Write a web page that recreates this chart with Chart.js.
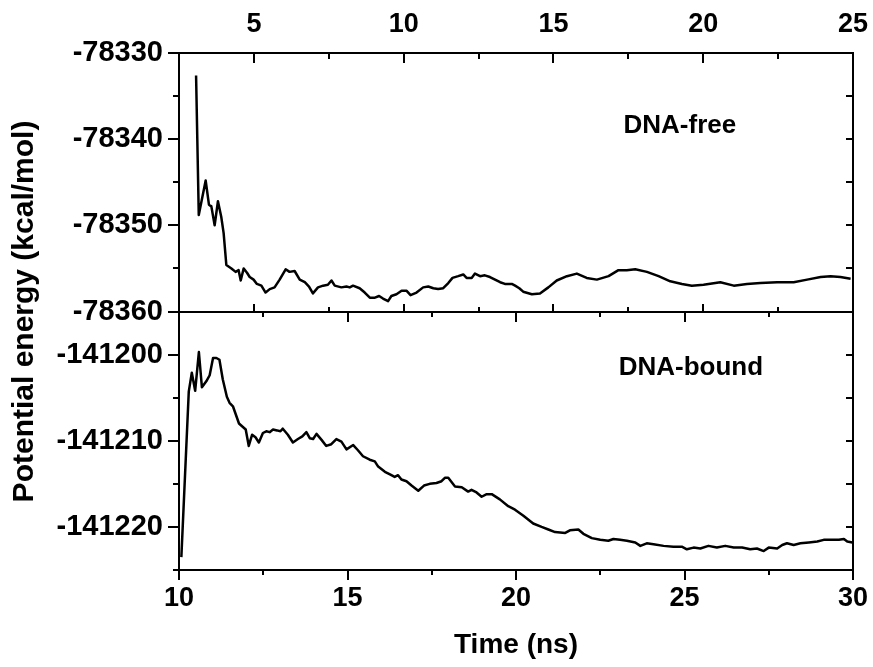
<!DOCTYPE html>
<html>
<head>
<meta charset="utf-8">
<script src="https://cdn.jsdelivr.net/npm/chart.js@4"></script>
<style>
  html, body { margin: 0; padding: 0; background: #fff; }
  #wrap { width: 873px; height: 667px; }
</style>
</head>
<body>
<div id="wrap"><canvas id="energy" width="873" height="667"></canvas></div>
<script>
// DNA-free run (top panel, read against the top time axis)
const freeTime = [3.07, 3.16, 3.39, 3.50, 3.58, 3.69, 3.80, 3.91, 3.99, 4.08, 4.25, 4.39, 4.49, 4.56, 4.66, 4.77, 4.86, 4.99,
  5.10, 5.25, 5.39, 5.53, 5.69, 5.86, 6.06, 6.19, 6.36, 6.53, 6.70, 6.84, 6.97, 7.14, 7.31, 7.47, 7.59, 7.70, 7.92,
  8.09, 8.20, 8.31, 8.53, 8.70, 8.87, 9.04, 9.18, 9.31, 9.48, 9.59, 9.76, 9.93, 10.10, 10.23, 10.43, 10.65, 10.82,
  10.99, 11.15, 11.32, 11.49, 11.63, 11.82, 11.99, 12.10, 12.27, 12.38, 12.55, 12.71, 12.88, 13.05, 13.22, 13.38,
  13.61, 13.72, 13.86, 13.99, 14.28, 14.55, 14.83, 15.11, 15.45, 15.78, 16.11, 16.45, 16.84, 17.17, 17.45, 17.73,
  18.12, 18.51, 18.90, 19.29, 19.62, 20.01, 20.57, 21.02, 21.46, 21.91, 22.47, 23.02, 23.47, 23.92, 24.25, 24.58, 24.92];
const freeEnergy = [-78332.6, -78348.8, -78344.8, -78347.6, -78347.8, -78350.0, -78347.2, -78349.0, -78350.9, -78354.6,
  -78355.0, -78355.4, -78355.2, -78356.4, -78355.0, -78355.5, -78356.0, -78356.3, -78356.8, -78357.0, -78357.8,
  -78357.4, -78357.2, -78356.3, -78355.1, -78355.4, -78355.3, -78356.3, -78356.6, -78357.1, -78357.9, -78357.2,
  -78357.0, -78356.9, -78356.4, -78357.0, -78357.2, -78357.1, -78357.2, -78357.0, -78357.3, -78357.8, -78358.4,
  -78358.4, -78358.2, -78358.5, -78358.8, -78358.2, -78358.0, -78357.6, -78357.6, -78358.1, -78357.8, -78357.2,
  -78357.1, -78357.3, -78357.4, -78357.3, -78356.7, -78356.1, -78355.9, -78355.7, -78356.1, -78356.1, -78355.6,
  -78355.9, -78355.8, -78356.0, -78356.3, -78356.6, -78356.8, -78356.8, -78357.0, -78357.3, -78357.7, -78358.0,
  -78357.9, -78357.2, -78356.4, -78355.9, -78355.6, -78356.1, -78356.3, -78355.9, -78355.2, -78355.2, -78355.1,
  -78355.4, -78355.9, -78356.5, -78356.8, -78357.0, -78356.9, -78356.6, -78357.0, -78356.8, -78356.7, -78356.6,
  -78356.6, -78356.3, -78356.0, -78355.9, -78356.0, -78356.2];

// DNA-bound run (bottom panel, bottom time axis)
const boundTime = [10.07, 10.29, 10.38, 10.48, 10.59, 10.68, 10.81, 10.91, 11.01, 11.11, 11.20, 11.30, 11.42, 11.50,
  11.60, 11.78, 11.98, 12.07, 12.17, 12.27, 12.37, 12.49, 12.59, 12.69, 12.79, 12.91, 13.01, 13.08, 13.23, 13.38,
  13.53, 13.66, 13.78, 13.88, 13.98, 14.08, 14.23, 14.37, 14.52, 14.67, 14.82, 14.97, 15.17, 15.31, 15.46, 15.66,
  15.81, 15.91, 16.11, 16.26, 16.40, 16.50, 16.60, 16.75, 16.90, 17.10, 17.27, 17.44, 17.64, 17.79, 17.89, 17.99,
  18.19, 18.39, 18.58, 18.68, 18.83, 18.98, 19.13, 19.28, 19.52, 19.77, 19.97, 20.22, 20.51, 20.76, 20.96, 21.16,
  21.46, 21.60, 21.85, 22.00, 22.25, 22.50, 22.74, 22.89, 23.09, 23.29, 23.54, 23.69, 23.88, 24.08, 24.38, 24.67,
  24.92, 25.07, 25.27, 25.47, 25.71, 25.96, 26.21, 26.46, 26.71, 26.95, 27.15, 27.35, 27.50, 27.75, 27.90, 28.04,
  28.24, 28.44, 28.69, 28.94, 29.13, 29.38, 29.58, 29.73, 29.83, 29.98];
const boundEnergy = [-141223.5, -141204.3, -141202.1, -141204.2, -141199.7, -141203.8, -141203.1, -141202.4, -141200.4,
  -141200.4, -141200.6, -141202.9, -141204.9, -141205.6, -141206.0, -141208.0, -141208.7, -141210.6, -141209.3,
  -141209.6, -141210.2, -141209.1, -141208.9, -141209.0, -141208.7, -141208.8, -141208.9, -141208.6, -141209.3,
  -141210.2, -141209.8, -141209.5, -141209.0, -141209.7, -141209.8, -141209.2, -141209.9, -141210.6, -141210.4,
  -141209.8, -141210.1, -141211.0, -141210.5, -141211.1, -141211.8, -141212.2, -141212.4, -141213.0, -141213.6,
  -141213.9, -141214.2, -141214.0, -141214.5, -141214.7, -141215.2, -141215.8, -141215.2, -141215.0, -141214.9,
  -141214.7, -141214.3, -141214.3, -141215.3, -141215.4, -141215.9, -141215.7, -141216.0, -141216.5, -141216.2,
  -141216.2, -141216.8, -141217.6, -141218.0, -141218.7, -141219.6, -141220.0, -141220.3, -141220.6, -141220.7,
  -141220.4, -141220.3, -141220.8, -141221.3, -141221.5, -141221.6, -141221.4, -141221.5, -141221.6, -141221.8,
  -141222.2, -141221.9, -141222.0, -141222.2, -141222.3, -141222.3, -141222.6, -141222.4, -141222.5, -141222.2,
  -141222.4, -141222.2, -141222.4, -141222.4, -141222.6, -141222.5, -141222.8, -141222.4, -141222.5, -141222.1,
  -141221.9, -141222.1, -141221.9, -141221.8, -141221.7, -141221.5, -141221.5, -141221.5, -141221.4, -141221.7,
  -141221.8];

// axis ticks
const topTimeTicks = [5, 10, 15, 20, 25];
const bottomTimeTicks = [10, 15, 20, 25, 30];
const freeEnergyTicks = [-78360, -78350, -78340, -78330];
const boundEnergyTicks = [-141220, -141210, -141200];

const panelLabels = [
  { text: 'DNA-free', xAxis: 'xTop', yAxis: 'yFree', x: 19.22, y: -78339.25 },
  { text: 'DNA-bound', xAxis: 'x', yAxis: 'yBound', x: 25.19, y: -141202.4 }
];

const FONT = '"Liberation Sans", Arial, Helvetica, sans-serif';

function toPoints(xs, ys) {
  return xs.map((x, i) => ({ x, y: ys[i] }));
}

function fixedTicks(values) {
  return scale => { scale.ticks = values.map(value => ({ value })); };
}

// midpoints between major ticks, kept inside the axis range
function minorsOf(majors, lo, hi) {
  const half = Math.abs(majors[1] - majors[0]) / 2;
  const out = new Set();
  majors.forEach(v => [v - half, v + half].forEach(m => {
    if (m >= lo && m <= hi && !majors.includes(m)) out.add(m);
  }));
  return [...out];
}

function seg(ctx, x1, y1, x2, y2) {
  ctx.beginPath();
  ctx.moveTo(x1, y1);
  ctx.lineTo(x2, y2);
  ctx.stroke();
}

const framePlugin = {
  id: 'frame',
  afterDraw(chart) {
    const { ctx, chartArea: a, scales } = chart;
    const xb = scales.x, xt = scales.xTop, yf = scales.yFree, yb = scales.yBound;
    const L = Math.round(a.left), R = Math.round(a.right), T = Math.round(a.top), B = Math.round(a.bottom);
    const mid = Math.round(yf.getPixelForValue(yf.min));
    const px = (s, v) => Math.round(s.getPixelForValue(v));

    ctx.save();
    ctx.strokeStyle = '#000';
    ctx.lineWidth = 2;
    ctx.lineCap = 'butt';
    ctx.strokeRect(L, T, R - L, B - T);
    seg(ctx, L, mid, R, mid);

    // left side: outward ticks
    [[yf, freeEnergyTicks], [yb, boundEnergyTicks]].forEach(([s, majors]) => {
      majors.forEach(v => seg(ctx, L, px(s, v), L - 11, px(s, v)));
      minorsOf(majors, s.min, s.max).forEach(v => seg(ctx, L, px(s, v), L - 6, px(s, v)));
      // right side: inward ticks
      majors.concat(minorsOf(majors, s.min, s.max))
        .filter(v => v > s.min && v < s.max)
        .forEach(v => seg(ctx, R, px(s, v), R - 7, px(s, v)));
    });

    // top axis: inward ticks on the top edge and on the divider
    const topMinors = minorsOf(topTimeTicks, xt.min, xt.max);
    topTimeTicks.filter(v => v < xt.max).forEach(v => {
      seg(ctx, px(xt, v), T, px(xt, v), T + 10);
      seg(ctx, px(xt, v), mid, px(xt, v), mid - 8);
    });
    topMinors.filter(v => v > xt.min).forEach(v => {
      seg(ctx, px(xt, v), T, px(xt, v), T + 6);
      seg(ctx, px(xt, v), mid, px(xt, v), mid - 5);
    });

    // bottom axis: outward ticks below, inward ticks under the divider
    const botMinors = minorsOf(bottomTimeTicks, xb.min, xb.max);
    bottomTimeTicks.forEach(v => {
      seg(ctx, px(xb, v), B, px(xb, v), B + 10);
      if (v > xb.min && v < xb.max) seg(ctx, px(xb, v), mid, px(xb, v), mid + 10);
    });
    botMinors.forEach(v => {
      seg(ctx, px(xb, v), B, px(xb, v), B + 5);
      seg(ctx, px(xb, v), mid, px(xb, v), mid + 5);
    });

    // panel captions
    ctx.fillStyle = '#000';
    ctx.font = 'bold 26px ' + FONT;
    ctx.textAlign = 'center';
    ctx.textBaseline = 'alphabetic';
    panelLabels.forEach(lb => {
      ctx.fillText(lb.text, scales[lb.xAxis].getPixelForValue(lb.x), scales[lb.yAxis].getPixelForValue(lb.y));
    });
    ctx.restore();
  }
};

const tickFontX = { family: FONT, size: 27, weight: 'bold' };
const tickFontY = { family: FONT, size: 29, weight: 'bold' };
const noGrid = { display: false, drawTicks: false };

// keep the plot box fixed regardless of how far end labels overhang
function fitHorizontal(height) {
  return s => { s.height = height; s.paddingLeft = 0; s.paddingRight = 0; };
}
function fitVertical(width) {
  return s => { s.width = width; s.paddingTop = 0; s.paddingBottom = 0; };
}

new Chart(document.getElementById('energy'), {
  type: 'line',
  data: {
    datasets: [
      { label: 'DNA-free', data: toPoints(freeTime, freeEnergy), xAxisID: 'xTop', yAxisID: 'yFree',
        borderColor: '#000', borderWidth: 2.5, pointRadius: 0, tension: 0, borderJoinStyle: 'round' },
      { label: 'DNA-bound', data: toPoints(boundTime, boundEnergy), xAxisID: 'x', yAxisID: 'yBound',
        borderColor: '#000', borderWidth: 2.5, pointRadius: 0, tension: 0, borderJoinStyle: 'round' }
    ]
  },
  options: {
    responsive: false,
    animation: false,
    devicePixelRatio: 1,
    layout: { padding: { left: 0, top: 0, right: 20, bottom: 0 } },
    plugins: {
      legend: { display: false },
      tooltip: { enabled: false },
      title: {
        display: true, position: 'left', fullSize: false,
        text: 'Potential energy (kcal/mol)',
        font: { family: FONT, size: 30, weight: 'bold' }, color: '#000',
        padding: { top: 7, bottom: 0 }
      }
    },
    scales: {
      x: {
        type: 'linear', position: 'bottom', min: 10, max: 30,
        afterBuildTicks: fixedTicks(bottomTimeTicks),
        grid: noGrid, border: { display: false },
        ticks: { font: tickFontX, color: '#000', padding: 12, maxRotation: 0, autoSkip: false, callback: v => String(v) },
        title: { display: true, text: 'Time (ns)', color: '#000', font: { family: FONT, size: 28, weight: 'bold' }, padding: { top: 0, bottom: 5 } },
        afterFit: fitHorizontal(97)
      },
      xTop: {
        type: 'linear', position: 'top', min: 2.5, max: 25,
        afterBuildTicks: fixedTicks(topTimeTicks),
        grid: noGrid, border: { display: false },
        ticks: { font: tickFontX, color: '#000', padding: 12, maxRotation: 0, autoSkip: false, callback: v => String(v) },
        afterFit: fitHorizontal(53)
      },
      yBound: {
        type: 'linear', position: 'left', stack: 'energy', stackWeight: 1, weight: 0,
        min: -141225, max: -141195,
        afterBuildTicks: fixedTicks(boundEnergyTicks),
        grid: noGrid, border: { display: false },
        ticks: { font: tickFontY, color: '#000', padding: 16, autoSkip: false, callback: v => String(v) },
        afterFit: fitVertical(136)
      },
      yFree: {
        type: 'linear', position: 'left', stack: 'energy', stackWeight: 1, weight: 1,
        min: -78360, max: -78330,
        afterBuildTicks: fixedTicks(freeEnergyTicks),
        grid: noGrid, border: { display: false },
        ticks: { font: tickFontY, color: '#000', padding: 16, autoSkip: false, callback: v => String(v) },
        afterFit: fitVertical(136)
      }
    }
  },
  plugins: [framePlugin]
});
</script>
</body>
</html>
